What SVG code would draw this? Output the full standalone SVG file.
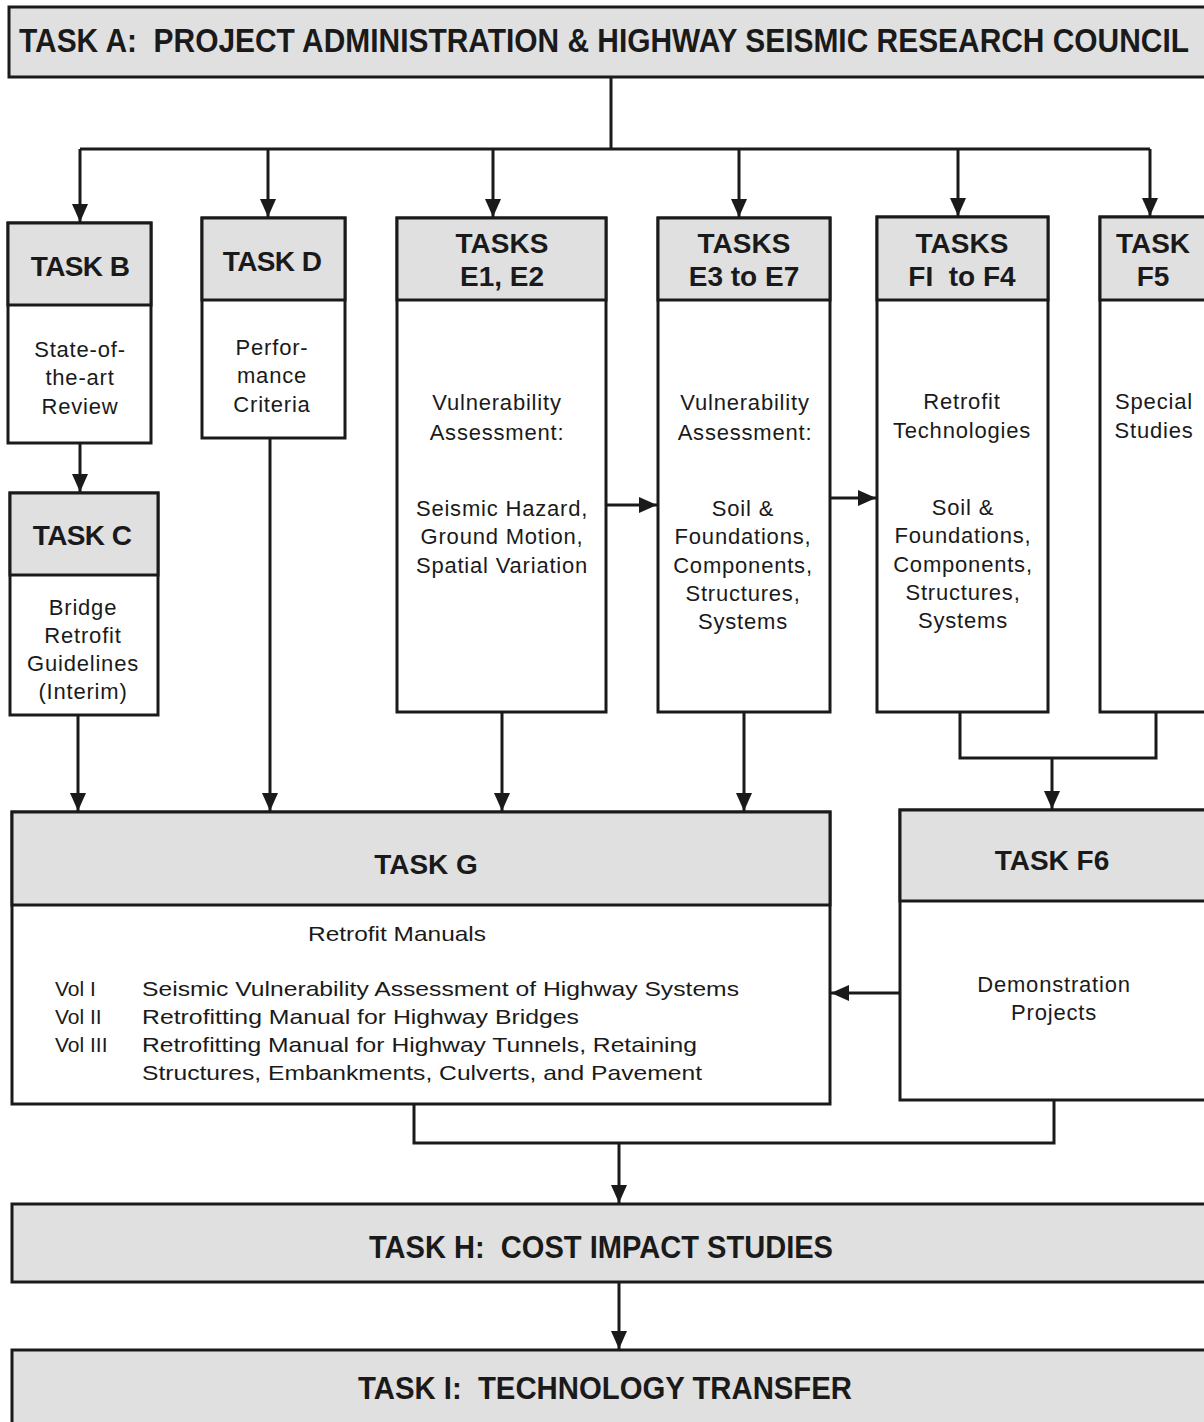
<svg xmlns="http://www.w3.org/2000/svg" width="1204" height="1422" viewBox="0 0 1204 1422">
<style>
.box{fill:#fff;stroke:#1a1a1a;stroke-width:3}
.hd{fill:#e0e0e0;stroke:#1a1a1a;stroke-width:3}
.cn{fill:none;stroke:#1a1a1a;stroke-width:3}
.tt{font-family:"Liberation Sans",Arial,sans-serif;font-weight:bold;fill:#1a1a1a;text-anchor:middle}
.bt{font-family:"Liberation Sans",Arial,sans-serif;font-size:22px;fill:#1a1a1a;text-anchor:middle;letter-spacing:0.8px}
.gt{font-family:"Liberation Sans",Arial,sans-serif;font-size:21px;fill:#1a1a1a}
</style>
<defs>
<marker id="ah" markerUnits="userSpaceOnUse" markerWidth="18" markerHeight="16" refX="18" refY="8" orient="auto" viewBox="0 0 18 16">
<path d="M0,0 L18,8 L0,16 z" fill="#1a1a1a"/>
</marker>
</defs>

<g id="taskA">
<rect class="hd" x="9" y="7" width="1205" height="70"/>
<text class="tt" transform="translate(604,52) scale(1,1.12)" x="0" y="0" font-size="29.5" textLength="1170" lengthAdjust="spacingAndGlyphs">TASK A:&#160; PROJECT ADMINISTRATION &amp; HIGHWAY SEISMIC RESEARCH COUNCIL</text>
</g>

<g id="taskB">
<rect class="box" x="8" y="223" width="143" height="220"/>
<rect class="hd" x="8" y="223" width="143" height="82"/>
<text class="tt" x="80" y="276" font-size="28" letter-spacing="-0.6">TASK B</text>
<text class="bt" x="80" y="357">State-of-</text>
<text class="bt" x="80" y="385">the-art</text>
<text class="bt" x="80" y="414">Review</text>
</g>

<g id="taskC">
<rect class="box" x="10" y="493" width="148" height="222"/>
<rect class="hd" x="10" y="493" width="148" height="82"/>
<text class="tt" x="82" y="545" font-size="28" letter-spacing="-0.6">TASK C</text>
<text class="bt" x="83" y="615">Bridge</text>
<text class="bt" x="83" y="643">Retrofit</text>
<text class="bt" x="83" y="671">Guidelines</text>
<text class="bt" x="83" y="699">(Interim)</text>
</g>

<g id="taskD">
<rect class="box" x="202" y="218" width="143" height="220"/>
<rect class="hd" x="202" y="218" width="143" height="82"/>
<text class="tt" x="272" y="271" font-size="28" letter-spacing="-0.6">TASK D</text>
<text class="bt" x="272" y="355">Perfor-</text>
<text class="bt" x="272" y="383">mance</text>
<text class="bt" x="272" y="412">Criteria</text>
</g>

<g id="taskE1E2">
<rect class="box" x="397" y="218" width="209" height="494"/>
<rect class="hd" x="397" y="218" width="209" height="82"/>
<text class="tt" x="502" y="253" font-size="28">TASKS</text>
<text class="tt" x="502" y="286" font-size="28">E1, E2</text>
<text class="bt" x="497" y="410">Vulnerability</text>
<text class="bt" x="497" y="440">Assessment:</text>
<text class="bt" x="502" y="516">Seismic Hazard,</text>
<text class="bt" x="502" y="544">Ground Motion,</text>
<text class="bt" x="502" y="573">Spatial Variation</text>
</g>

<g id="taskE3E7">
<rect class="box" x="658" y="218" width="172" height="494"/>
<rect class="hd" x="658" y="218" width="172" height="82"/>
<text class="tt" x="744" y="253" font-size="28">TASKS</text>
<text class="tt" x="744" y="286" font-size="28">E3 to E7</text>
<text class="bt" x="745" y="410">Vulnerability</text>
<text class="bt" x="745" y="440">Assessment:</text>
<text class="bt" x="743" y="516">Soil &amp;</text>
<text class="bt" x="743" y="544">Foundations,</text>
<text class="bt" x="743" y="573">Components,</text>
<text class="bt" x="743" y="601">Structures,</text>
<text class="bt" x="743" y="629">Systems</text>
</g>

<g id="taskF1F4">
<rect class="box" x="877" y="217" width="171" height="495"/>
<rect class="hd" x="877" y="217" width="171" height="83"/>
<text class="tt" x="962" y="253" font-size="28">TASKS</text>
<text class="tt" x="962" y="286" font-size="28">FI&#160; to F4</text>
<text class="bt" x="962" y="409">Retrofit</text>
<text class="bt" x="962" y="438">Technologies</text>
<text class="bt" x="963" y="515">Soil &amp;</text>
<text class="bt" x="963" y="543">Foundations,</text>
<text class="bt" x="963" y="572">Components,</text>
<text class="bt" x="963" y="600">Structures,</text>
<text class="bt" x="963" y="628">Systems</text>
</g>

<g id="taskF5">
<rect class="box" x="1100" y="217" width="120" height="495"/>
<rect class="hd" x="1100" y="217" width="120" height="83"/>
<text class="tt" x="1153" y="253" font-size="28">TASK</text>
<text class="tt" x="1153" y="286" font-size="28">F5</text>
<text class="bt" x="1154" y="409">Special</text>
<text class="bt" x="1154" y="438">Studies</text>
</g>

<g id="taskG">
<rect class="box" x="12" y="812" width="818" height="292"/>
<rect class="hd" x="12" y="812" width="818" height="93"/>
<text class="tt" x="426" y="874" font-size="28">TASK G</text>
<text class="gt" x="308" y="941" textLength="178" lengthAdjust="spacingAndGlyphs">Retrofit Manuals</text>
<text class="gt" x="55" y="996">Vol I</text>
<text class="gt" x="55" y="1024">Vol II</text>
<text class="gt" x="55" y="1052">Vol III</text>
<text class="gt" x="142" y="996" textLength="597" lengthAdjust="spacingAndGlyphs">Seismic Vulnerability Assessment of Highway Systems</text>
<text class="gt" x="142" y="1024" textLength="437" lengthAdjust="spacingAndGlyphs">Retrofitting Manual for Highway Bridges</text>
<text class="gt" x="142" y="1052" textLength="555" lengthAdjust="spacingAndGlyphs">Retrofitting Manual for Highway Tunnels, Retaining</text>
<text class="gt" x="142" y="1080" textLength="560" lengthAdjust="spacingAndGlyphs">Structures, Embankments, Culverts, and Pavement</text>
</g>

<g id="taskF6">
<rect class="box" x="900" y="810" width="320" height="290"/>
<rect class="hd" x="900" y="810" width="320" height="91"/>
<text class="tt" x="1052" y="870" font-size="28">TASK F6</text>
<text class="bt" x="1054" y="992">Demonstration</text>
<text class="bt" x="1054" y="1020">Projects</text>
</g>

<g id="taskH">
<rect class="hd" x="12" y="1204" width="1210" height="78"/>
<text class="tt" x="601" y="1258" font-size="32" textLength="464" lengthAdjust="spacingAndGlyphs">TASK H:&#160; COST IMPACT STUDIES</text>
</g>

<g id="taskI">
<rect class="hd" x="12" y="1350" width="1210" height="90"/>
<text class="tt" x="605" y="1399" font-size="32" textLength="494" lengthAdjust="spacingAndGlyphs">TASK I:&#160; TECHNOLOGY TRANSFER</text>
</g>

<g id="connectors">
<path class="cn" d="M611,77 V149"/>
<path class="cn" d="M80,149 H1150"/>
<path class="cn" d="M80,149 V222" marker-end="url(#ah)"/>
<path class="cn" d="M268,149 V217" marker-end="url(#ah)"/>
<path class="cn" d="M493,149 V217" marker-end="url(#ah)"/>
<path class="cn" d="M739,149 V217" marker-end="url(#ah)"/>
<path class="cn" d="M958,149 V216" marker-end="url(#ah)"/>
<path class="cn" d="M1150,149 V216" marker-end="url(#ah)"/>
<path class="cn" d="M80,443 V492" marker-end="url(#ah)"/>
<path class="cn" d="M606,505 H657" marker-end="url(#ah)"/>
<path class="cn" d="M830,498 H876" marker-end="url(#ah)"/>
<path class="cn" d="M78,715 V811" marker-end="url(#ah)"/>
<path class="cn" d="M270,438 V811" marker-end="url(#ah)"/>
<path class="cn" d="M502,712 V811" marker-end="url(#ah)"/>
<path class="cn" d="M744,712 V811" marker-end="url(#ah)"/>
<path class="cn" d="M960,712 V758 H1156 V712"/>
<path class="cn" d="M1052,758 V809" marker-end="url(#ah)"/>
<path class="cn" d="M900,993 H831" marker-end="url(#ah)"/>
<path class="cn" d="M414,1104 V1143 H1054 V1100"/>
<path class="cn" d="M619,1143 V1203" marker-end="url(#ah)"/>
<path class="cn" d="M619,1282 V1349" marker-end="url(#ah)"/>
</g>
</svg>
